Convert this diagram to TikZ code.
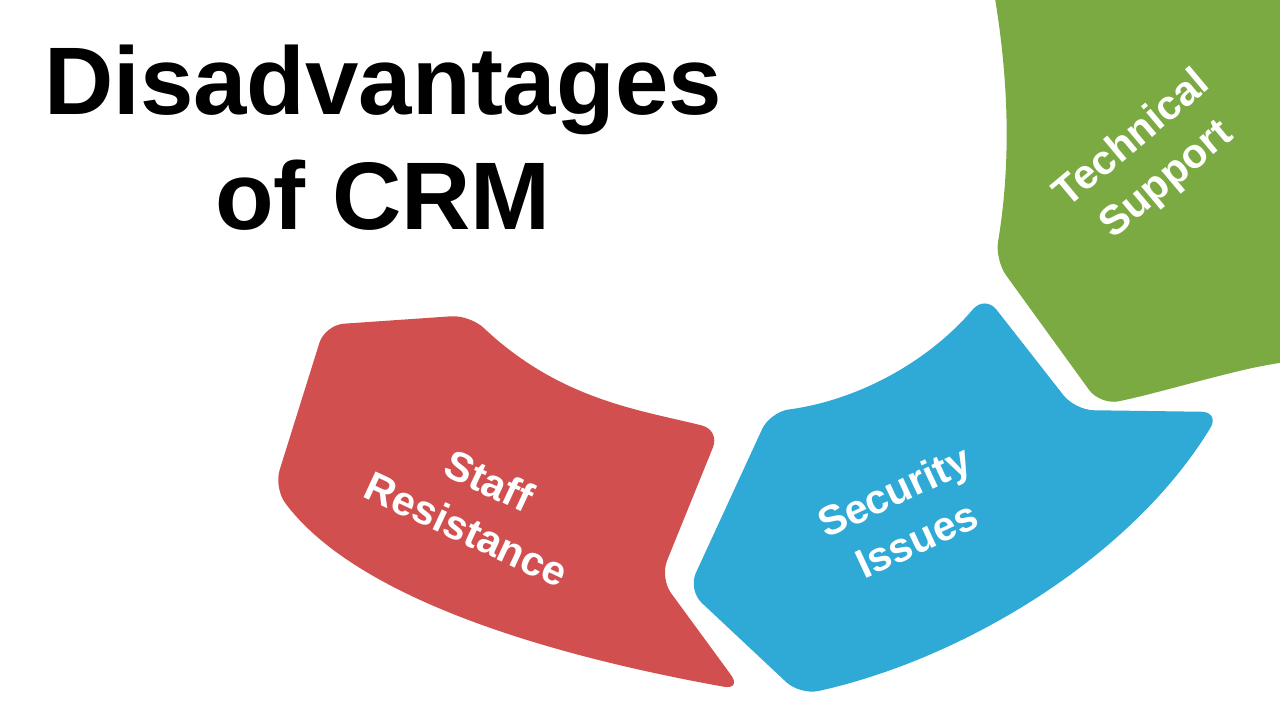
\documentclass[tikz,border=0pt]{standalone}
\usepackage{fontspec}
\setmainfont{Liberation Sans}
\begin{document}
\begin{tikzpicture}[x=0.75pt,y=-0.75pt,
  seg/.style={rounded corners=14pt},
  lab/.style={text=white,font=\bfseries\fontsize{31}{40}\selectfont,align=center}]
\definecolor{cred}{HTML}{D24F4F}
\definecolor{cblue}{HTML}{2FA9D6}
\definecolor{cgreen}{HTML}{7BAA43}
\useasboundingbox (0,0) rectangle (1280,720);
\fill[white] (0,0) rectangle (1280,720);
\node[font=\bfseries\fontsize{72}{86}\selectfont,align=center] (title) at (383,138) {Disadvantages\\of CRM};
% red
\fill[cred,seg] (325,325) -- (470,315) .. controls (560,400) and (640,410) .. (720,430) -- (660,578) -- (742,690)
  .. controls (520,650) and (350,590) .. (274,488) -- cycle;
% blue
\fill[cblue,seg] (770,412) .. controls (860,400) and (930,360) .. (985,295) -- (1075,410) -- (1220,412)
  .. controls (1130,560) and (960,660) .. (800,695) -- (688,590) -- cycle;
% green
\fill[cgreen,seg] (992,-20) -- (1300,-20) -- (1300,360) -- (1265,365)
  .. controls (1200,380) and (1150,395) .. (1100,405) -- (995,260) .. controls (1010,170) and (1010,90) .. cycle;
\node[lab,rotate=-25] (staff) at (478,505) {Staff\\Resistance};
\node[lab,rotate=25] (sec) at (905,515) {Security\\Issues};
\node[lab,rotate=40] (tech) at (1150,160) {Technical\\Support};
\end{tikzpicture}
\end{document}
